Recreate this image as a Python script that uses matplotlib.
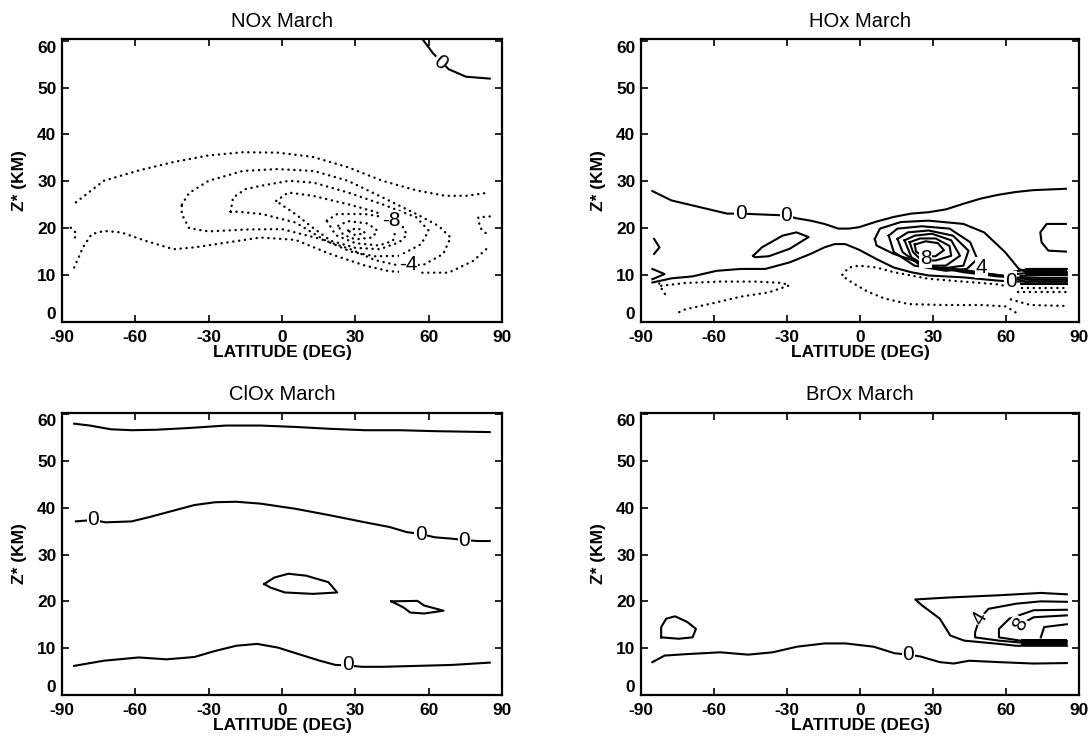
import numpy as np
import matplotlib
matplotlib.use("Agg")
import matplotlib.pyplot as plt

plt.rcParams['font.family'] = ['Liberation Sans', 'DejaVu Sans']
plt.rcParams['axes.unicode_minus'] = False

# ---------------- data (lat deg, z km) ----------------
# NOx (dotted = negative, solid = zero)
nox_zero = [(57.5, 60.3), (61.8, 57.3), (68.2, 53.9), (75.3, 52.3), (85.0, 51.9)]
nox_a_top = [(-84.3, 25.5), (-72.9, 30.1), (-58.6, 32.3), (-44.4, 34.1), (-30.1, 35.5),
             (-15.9, 36.2), (-1.6, 36.1), (12.6, 35.2), (26.9, 33.0), (41.1, 30.1),
             (55.4, 28.0), (66.8, 26.9), (75.3, 26.9), (85.0, 27.6)]
nox_a_bot = [(-85.0, 11.6), (-81.4, 15.9), (-77.9, 18.7), (-72.9, 19.4), (-65.8, 19.1),
             (-55.8, 17.3), (-44.4, 15.5), (-35.8, 15.9), (-23.0, 16.9), (-8.8, 18.0),
             (5.5, 17.5), (19.7, 14.5), (34.0, 12.0), (44.0, 10.8), (56.0, 10.5),
             (68.2, 10.5), (78.2, 13.0), (85.0, 16.2)]
nox_b = [(-41, 25.0), (-38, 27.5), (-30, 30.1), (-16, 32.2), (-2, 32.6), (13, 32.2),
         (27, 30.1), (41, 26.6), (55, 23.0), (64, 20.5), (69, 18.0), (66, 14.5),
         (58, 12.2), (48, 12.0), (38, 13.2), (28, 15.5), (15, 17.8), (0, 19.8),
         (-15, 19.7), (-30, 19.3), (-38, 20.0), (-41, 23.0), (-41, 25.0)]
nox_c = [(-21, 23.5), (-20, 26.5), (-15, 28.3), (-9, 29.0), (3, 30.1), (13, 29.7),
         (27, 27.6), (41, 25.1), (55, 22.3), (60, 19.5), (57, 16.6), (48, 14.1),
         (38, 14.0), (28, 15.0), (18, 17.3), (5.5, 21.2), (-8, 23.0), (-18, 23.5),
         (-21, 23.5)]
nox_d = [(-2.4, 25.8), (2.6, 27.6), (12.6, 26.9), (27, 25.1), (38, 23.5), (45, 22.0),
         (50, 20.0), (51, 18.5), (48, 17.0), (40, 15.5), (30, 15.8), (20, 17.3),
         (12.6, 20.1), (5.5, 23.0), (-2.4, 25.8)]
nox_e = [(18.3, 21.6), (22.6, 23.0), (34, 23.0), (42.5, 22.3), (46.8, 20.1), (45.4, 17.3),
         (39.7, 16.3), (30, 16.8), (22, 18.5), (18.3, 21.6)]
nox_f = [(23, 20.5), (27, 21.5), (35, 21.0), (39, 19.5), (37, 18.0), (30, 17.6),
         (25, 18.6), (23, 20.5)]
nox_g = [(27, 19.5), (31, 20.0), (34, 19.0), (30, 18.5), (27, 19.5)]
nox_left = [(-86.4, 20.1), (-84.3, 19.0), (-85.0, 17.2)]
nox_right = [(85.0, 22.5), (80.3, 22.3), (81.0, 20.1), (83.9, 18.7), (85.0, 19.1)]
nox_labels = [("0", 64.7, 55.4, -40), ("-8", 44.7, 21.6, 0), ("-4", 51.8, 12.3, 0)]

# HOx
hox_zero_top = [(-85.3, 27.9), (-77.4, 25.9), (-66.0, 24.5), (-54.6, 23.1), (-48.9, 23.1),
                (-30.3, 22.7), (-26.1, 22.1), (-20.3, 21.6), (-14.6, 20.9), (-8.9, 19.9),
                (-4.6, 19.9), (-0.4, 20.2), (6.8, 21.4), (13.9, 22.4), (21.0, 23.1),
                (28.2, 23.4), (35.3, 24.0), (42.5, 25.2), (49.6, 26.3), (56.7, 27.1),
                (63.9, 27.7), (71.0, 28.1), (84.6, 28.4)]
hox_zero_low = [(-85.3, 8.4), (-77.4, 9.3), (-68.9, 9.7), (-58.9, 10.9), (-48.9, 11.3),
                (-38.9, 11.3), (-28.9, 12.7), (-20.3, 14.5), (-14.6, 15.9), (-10.4, 16.6),
                (-6.1, 16.6), (-0.4, 15.4), (6.8, 13.4), (13.9, 11.6), (21.0, 10.6),
                (28.2, 9.9), (42.5, 9.5), (56.7, 8.8), (64, 8.6), (85, 8.6)]
hox_blob = [(-43.9, 14.1), (-40.3, 15.9), (-31.8, 18.4), (-26.1, 19.1), (-21.1, 18.1),
            (-28.9, 15.6), (-37.5, 14.0), (-43.2, 13.8), (-43.9, 14.1)]
hox_left1 = [(-84.6, 17.7), (-82.4, 15.9), (-84.6, 14.5)]
hox_left2 = [(-85.3, 11.3), (-80.3, 10.2), (-85.3, 9.1)]
hox_right = [(84.6, 20.9), (76.7, 20.9), (74.1, 19.1), (74.6, 17.0), (77.4, 15.2), (84.6, 15.0)]
hox_l1 = [(6.1, 17.7), (8.2, 19.9), (16.8, 21.3), (28.2, 21.6), (42.5, 20.9), (51.0, 19.1),
          (59.6, 14.9), (65.3, 11.3), (70, 10.3), (85, 10.3)]
hox_l1b = [(6.1, 17.7), (6.8, 16.3), (13.9, 14.5), (28.2, 12.0), (42.5, 10.6), (56.7, 9.7),
           (66, 9.4), (85, 9.4)]
hox_l2 = [(11.8, 18.4), (15.4, 19.9), (25.4, 20.4), (36.8, 19.9), (45.3, 17.0), (48.2, 13.4),
          (43.9, 11.3), (35.3, 10.9), (22.4, 12.0), (13.9, 14.9), (11.8, 18.4)]
hox_l3 = [(15.4, 17.7), (19.7, 19.1), (28.2, 19.5), (38.2, 18.4), (44.6, 15.2), (42.5, 12.0),
          (32.5, 11.3), (23.9, 12.4), (17.5, 14.9), (15.4, 17.7)]
hox_l4 = [(18.3, 17.4), (22.5, 18.4), (29.6, 18.8), (37.5, 17.4), (41.1, 14.1), (35.3, 12.0),
          (26.8, 12.0), (21.1, 13.8), (18.3, 17.4)]
hox_l5 = [(20.4, 17.0), (24.7, 17.8), (31.1, 17.8), (36.8, 16.2), (37.5, 14.1), (31.1, 13.1),
          (25.3, 13.1), (21.8, 14.9), (20.4, 17.0)]
hox_l6 = [(22.5, 16.5), (27, 17.2), (32, 16.8), (34.5, 15.3), (31, 14.0), (26, 14.0),
          (23, 15.0), (22.5, 16.5)]
hox_dense = [
    [(34, 11.6), (45, 10.9), (55, 10.1), (62, 9.6), (70, 9.0), (85, 9.0)],
    [(37, 11.2), (50, 10.4), (60, 9.8), (68, 8.6), (85, 8.6)],
    [(62, 10.6), (70, 11.3), (85, 11.3)],
    [(64, 10.2), (72, 10.6), (85, 10.6)],
    [(66, 9.8), (75, 10.0), (85, 10.0)],
    [(66, 8.1), (75, 8.1), (85, 8.1)],
]
hox_band_lat = [68, 85]
hox_band_lo = [9.8, 9.8]
hox_band_hi = [11.6, 11.6]
hox_neg1 = [(-81.7, 7.7), (-71.7, 8.3), (-57.5, 8.6), (-43.2, 8.6), (-31.5, 8.3), (-29.5, 7.7)]
hox_neg2 = [(-29.5, 7.7), (-37.5, 6.3), (-48.9, 5.4), (-60.3, 4.0), (-71.7, 2.7), (-75.5, 1.8)]
hox_neg3 = [(-82.5, 8.2), (-81.0, 6.5), (-79.6, 5.6)]
hox_neg4 = [(61, 7.5), (56.7, 8.0), (42.5, 8.6), (28.2, 9.2), (13.9, 10.6), (6.8, 11.6),
            (-0.4, 12.0), (-4.6, 11.6), (-7.5, 9.9), (-3, 8.3), (3, 6.5), (10, 5.0),
            (20, 3.8), (35, 3.6), (50, 3.6), (60, 3.3), (64, 2.0)]
hox_neg5 = [(62, 4.8), (70, 3.6), (85, 3.4)]
hox_neg6 = [(64, 7.2), (75, 7.2), (85, 7.2)]
hox_neg7 = [(65, 6.4), (75, 6.4), (85, 6.4)]
hox_labels = [("0", -48.9, 23.1, 0), ("0", -30.3, 22.7, 0), ("8", 27.0, 13.6, 0),
              ("4", 50.0, 11.6, 0), ("0", 61.9, 8.7, 0)]

# ClOx
clox_top = [(-85.0, 58.0), (-78.6, 57.6), (-70.0, 56.8), (-61.5, 56.6), (-51.5, 56.7),
            (-37.3, 57.1), (-23.0, 57.6), (-8.8, 57.6), (5.5, 57.3), (19.7, 56.9),
            (34.0, 56.6), (48.2, 56.6), (62.5, 56.4), (85.0, 56.2)]
clox_mid = [(-84.3, 37.1), (-77.2, 37.4), (-72.2, 36.9), (-61.5, 37.1), (-54.4, 38.0),
            (-44.4, 39.4), (-35.8, 40.6), (-27.3, 41.2), (-18.7, 41.3), (-8.8, 40.9),
            (5.5, 39.8), (19.7, 38.4), (34.0, 36.9), (44.0, 35.9), (51.1, 34.8),
            (56.8, 34.4), (62.5, 33.7), (69.6, 33.4), (74.6, 33.1), (80.3, 32.9), (85.0, 32.9)]
clox_low = [(-85.0, 6.2), (-72.9, 7.3), (-58.6, 8.0), (-47.2, 7.6), (-35.8, 8.1),
            (-27.3, 9.4), (-18.7, 10.5), (-10.2, 10.9), (-1.6, 10.1), (6.9, 8.7),
            (15.5, 7.3), (21.9, 6.4), (26.9, 6.3), (32.6, 6.0), (41.1, 6.0),
            (55.4, 6.2), (69.6, 6.4), (85.0, 6.9)]
clox_loop1 = [(-7.3, 23.7), (-3.1, 25.1), (2.6, 25.9), (9.8, 25.5), (19.0, 24.1),
              (22.6, 21.9), (12.6, 21.6), (1.2, 21.9), (-4.5, 22.9), (-7.3, 23.7)]
clox_loop2 = [(44.7, 20.0), (55.4, 20.1), (58.2, 19.1), (66.1, 18.0), (58.2, 17.4),
              (52.5, 17.6), (49.7, 18.7), (44.7, 20.0)]
clox_labels = [("0", -77.2, 37.4, 0), ("0", 56.8, 34.4, 0), ("0", 74.6, 33.1, 0),
               ("0", 26.9, 6.4, 0)]

# BrOx
brox_low = [(-85.3, 7.0), (-80.3, 8.4), (-71.7, 8.7), (-57.4, 9.1), (-45.9, 8.6),
            (-35.9, 9.1), (-25.9, 10.3), (-14.5, 11.0), (-5.9, 11.0), (5.6, 10.3),
            (14.2, 8.9), (19.9, 8.6), (24.9, 8.2), (32.8, 7.0), (38.5, 6.7),
            (44.9, 7.3), (57.1, 7.0), (71.4, 6.7), (85.0, 6.8)]
brox_loop = [(-81.7, 12.3), (-81.7, 14.5), (-79.6, 16.3), (-76.0, 16.8), (-71.0, 15.6),
             (-67.4, 14.1), (-68.8, 12.3), (-74.5, 12.0), (-81.7, 12.3)]
brox_c1 = [(85.0, 21.5), (74.3, 21.8), (57.1, 21.3), (35.6, 20.8), (22.7, 20.4),
           (25.6, 19.1), (32.8, 16.3), (37.1, 12.7), (42.8, 11.6), (57.1, 10.9),
           (64.2, 10.5), (85.0, 10.5)]
brox_c2 = [(85.0, 19.9), (74.3, 20.0), (64.2, 19.5), (52.8, 18.4), (49.2, 16.3),
           (47.3, 13.4), (47.3, 12.3), (57.1, 11.6), (65.8, 11.2), (85.0, 11.0)]
brox_c3 = [(85.0, 18.2), (71.4, 18.1), (61.4, 16.3), (57.1, 14.1), (57.1, 12.3),
           (65.8, 11.6), (85.0, 11.5)]
brox_c4 = [(85.0, 17.0), (71.4, 16.6), (68.5, 15.8)]
brox_c5 = [(85.0, 15.1), (75.7, 14.5), (74.3, 12.3)]
brox_band_lat = [66, 85]
brox_band_lo = [10.4, 10.4]
brox_band_hi = [12.0, 12.0]
brox_labels = [("0", 19.9, 8.6, 0), ("4", 49.2, 16.3, 60), ("8", 65.7, 15.2, 60)]

# ---------------- drawing ----------------
fig = plt.figure(figsize=(10.91, 7.40), dpi=100)
pos = {
    "NOx March": [0.0568, 0.565, 0.4033, 0.382],
    "HOx March": [0.5875, 0.565, 0.4015, 0.382],
    "ClOx March": [0.0568, 0.061, 0.4033, 0.381],
    "BrOx March": [0.5875, 0.061, 0.4015, 0.381],
}
solid = dict(color='black', lw=1.5, solid_joinstyle='round')
dotted = dict(color='black', lw=1.7, linestyle=(0, (0.1, 2.4)), dash_capstyle='round')


def line(ax, pts, style):
    pts = np.array(pts)
    ax.plot(pts[:, 0], pts[:, 1], **style)


def labels(ax, items):
    for s, x, y, rot in items:
        ax.text(x, y, s, ha='center', va='center', rotation=rot, fontsize=15,
                bbox=dict(fc='white', ec='none', pad=0.4), zorder=5)


axes = {}
for name, p in pos.items():
    ax = fig.add_axes(p)
    axes[name] = ax
    ax.set_xlim(-90, 90)
    ax.set_ylim(0, 60.3)
    ax.set_xticks([-90, -60, -30, 0, 30, 60, 90])
    ax.set_yticks([0, 10, 20, 30, 40, 50, 60])
    ax.tick_params(direction='in', top=True, right=True, length=5, width=1.2,
                   labelsize=12.5, pad=4)
    ax.tick_params(axis='x', pad=6)
    for t in ax.get_xticklabels() + ax.get_yticklabels():
        t.set_fontweight('bold')
    yl = ax.get_yticklabels()
    yl[0].set_va('bottom')
    yl[-1].set_va('top')
    for sp in ax.spines.values():
        sp.set_linewidth(1.6)
    ax.set_title(name, fontsize=14.5, pad=9)
    ax.set_ylabel("Z* (KM)", fontsize=12.5, fontweight='bold', labelpad=7)
    ax.set_xlabel("LATITUDE (DEG)", fontsize=12.5, fontweight='bold', labelpad=0)

ax = axes["NOx March"]
line(ax, nox_zero, solid)
for c in [nox_a_top, nox_a_bot, nox_b, nox_c, nox_d, nox_e, nox_f, nox_g, nox_left, nox_right]:
    line(ax, c, dotted)
labels(ax, nox_labels)

ax = axes["HOx March"]
for c in [hox_zero_top, hox_zero_low, hox_blob, hox_left1, hox_left2, hox_right,
          hox_l1, hox_l1b, hox_l2, hox_l3, hox_l4, hox_l5, hox_l6] + hox_dense:
    line(ax, c, solid)
ax.fill_between(hox_band_lat, hox_band_lo, hox_band_hi, color='black', lw=0)
for c in [hox_neg1, hox_neg2, hox_neg3, hox_neg4, hox_neg5, hox_neg6, hox_neg7]:
    line(ax, c, dotted)
labels(ax, hox_labels)

ax = axes["ClOx March"]
for c in [clox_top, clox_mid, clox_low, clox_loop1, clox_loop2]:
    line(ax, c, solid)
labels(ax, clox_labels)

ax = axes["BrOx March"]
for c in [brox_low, brox_loop, brox_c1, brox_c2, brox_c3, brox_c4, brox_c5]:
    line(ax, c, solid)
ax.fill_between(brox_band_lat, brox_band_lo, brox_band_hi, color='black', lw=0)
labels(ax, brox_labels)

fig.savefig("out.png", dpi=100)
